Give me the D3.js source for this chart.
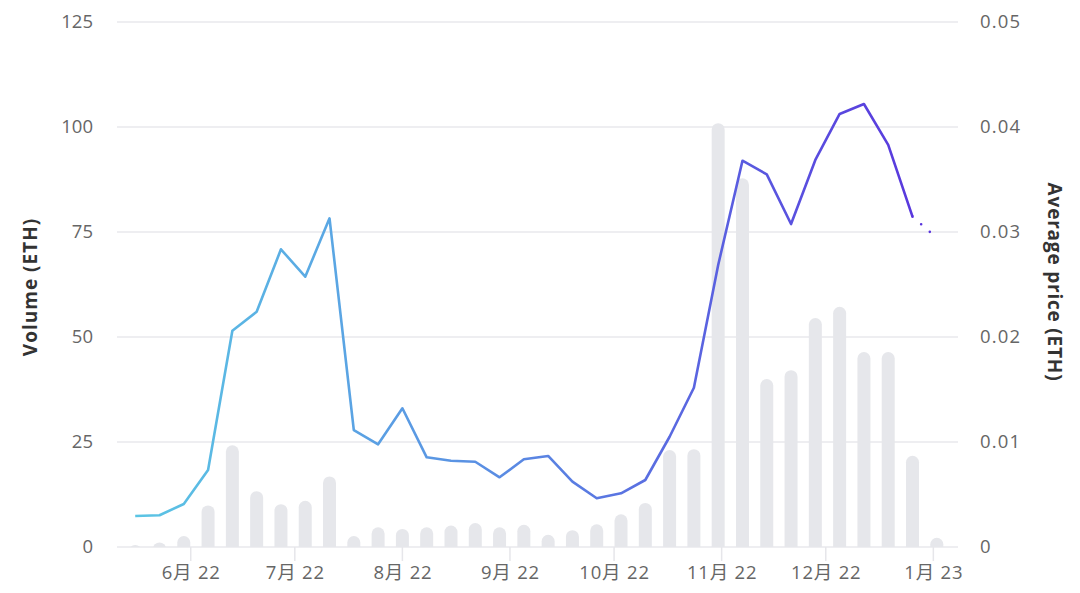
<!DOCTYPE html>
<html>
<head>
<meta charset="utf-8">
<script src="https://cdn.jsdelivr.net/npm/d3@7"></script>
<style>
  html, body { margin: 0; padding: 0; background: #fff; }
  svg { display: block; }
</style>
</head>
<body>
<svg id="chart" width="1080" height="593"></svg>
<script>
// ---- data ----
const weeks = ["2022-05-16","2022-05-23","2022-05-30","2022-06-06","2022-06-13","2022-06-20","2022-06-27",
  "2022-07-04","2022-07-11","2022-07-18","2022-07-25","2022-08-01","2022-08-08","2022-08-15","2022-08-22",
  "2022-08-29","2022-09-05","2022-09-12","2022-09-19","2022-09-26","2022-10-03","2022-10-10","2022-10-17",
  "2022-10-24","2022-10-31","2022-11-07","2022-11-14","2022-11-21","2022-11-28","2022-12-05","2022-12-12",
  "2022-12-19","2022-12-26","2023-01-02"];
const volume = [0.5, 1.1, 2.6, 9.9, 24.2, 13.3, 10.2, 11.0, 16.8, 2.6, 4.7, 4.3, 4.7, 5.1, 5.7, 4.7, 5.3,
  2.9, 4.0, 5.4, 7.8, 10.5, 23.1, 23.3, 100.9, 87.8, 40.0, 42.1, 54.5, 57.2, 46.4, 46.4, 21.7, 2.2];
const price = [0.00295, 0.00302, 0.0041, 0.00733, 0.0206, 0.0224, 0.02835, 0.02574, 0.0313, 0.01114,
  0.00978, 0.01321, 0.00854, 0.00822, 0.00812, 0.00664, 0.00835, 0.00867, 0.00622, 0.00464, 0.00511,
  0.00638, 0.0105, 0.01517, 0.02686, 0.03679, 0.03549, 0.03076, 0.03686, 0.04124, 0.04219, 0.03829,
  0.03146, 0.02943];
const monthTicks = ["2022-06-01","2022-07-01","2022-08-01","2022-09-01","2022-10-01","2022-11-01","2022-12-01","2023-01-01"];
const monthLabels = ["6月 22","7月 22","8月 22","9月 22","10月 22","11月 22","12月 22","1月 23"];
const volTicks = [0, 25, 50, 75, 100, 125];
const priceTicks = [0, 0.01, 0.02, 0.03, 0.04, 0.05];
const volTitle = "Volume (ETH)";
const priceTitle = "Average price (ETH)";

// ---- layout ----
const plotL = 117, plotR = 958, plotT = 22, plotB = 547;
const parse = d3.timeParse("%Y-%m-%d");
const dates = weeks.map(parse);

const svg = d3.select("#chart");
const x = d3.scaleTime().domain([parse("2022-05-16"), parse("2023-01-02")]).range([135.2, 936.8]);
const yV = d3.scaleLinear().domain([0, 125]).range([plotB, plotT]);
const yP = d3.scaleLinear().domain([0, 0.05]).range([plotB, plotT]);

const font = "'Open Sans', 'Noto Sans', 'Noto Sans CJK SC', sans-serif";

// gridlines
svg.append("g").selectAll("line").data(volTicks).join("line")
  .attr("x1", plotL).attr("x2", plotR)
  .attr("y1", d => yV(d)).attr("y2", d => yV(d))
  .attr("stroke", "#e8e8ec").attr("stroke-width", 1.5);

// month ticks
svg.append("g").selectAll("line").data(monthTicks).join("line")
  .attr("x1", d => x(parse(d))).attr("x2", d => x(parse(d)))
  .attr("y1", plotB).attr("y2", plotB + 14)
  .attr("stroke", "#e6e6ea").attr("stroke-width", 1.5);

// bars
svg.append("defs").append("clipPath").attr("id", "clipBars")
  .append("rect").attr("x", 0).attr("y", 0).attr("width", 1080).attr("height", plotB);
const bw = 13;
svg.append("g").attr("clip-path", "url(#clipBars)").selectAll("rect").data(volume).join("rect")
  .attr("x", (d, i) => x(dates[i]) - bw / 2)
  .attr("y", d => yV(d))
  .attr("width", bw)
  .attr("height", d => plotB - yV(d) + bw)
  .attr("rx", bw / 2).attr("ry", bw / 2)
  .attr("fill", "#e6e7eb");

// line gradient
const grad = svg.select("defs").append("linearGradient").attr("id", "lineGrad")
  .attr("gradientUnits", "userSpaceOnUse")
  .attr("x1", x(dates[0])).attr("x2", x(dates[dates.length - 1])).attr("y1", 0).attr("y2", 0);
grad.append("stop").attr("offset", "0%").attr("stop-color", "#5bc5e4");
grad.append("stop").attr("offset", "45%").attr("stop-color", "#5a8de3");
grad.append("stop").attr("offset", "100%").attr("stop-color", "#5934dd");

const pts = price.map((p, i) => [x(dates[i]), yP(p)]);
const line = d3.line();
svg.append("path").attr("d", line(pts.slice(0, pts.length - 1)))
  .attr("fill", "none").attr("stroke", "url(#lineGrad)").attr("stroke-width", 2.6)
  .attr("stroke-linejoin", "round");
svg.append("path").attr("d", line(pts.slice(pts.length - 2)))
  .attr("fill", "none").attr("stroke", "#5934dd").attr("stroke-width", 2.6)
  .attr("stroke-dasharray", "0 11.5").attr("stroke-linecap", "round").attr("stroke-dashoffset", -11.5);

// left tick labels
svg.append("g").selectAll("text").data(volTicks).join("text")
  .attr("x", 93).attr("y", d => yV(d)).attr("dy", "0.35em")
  .attr("text-anchor", "end").attr("font-family", font).attr("font-size", 18.5)
  .attr("fill", "#666").text(d => d);

// right tick labels
svg.append("g").selectAll("text").data(priceTicks).join("text")
  .attr("x", 980).attr("y", d => yP(d)).attr("dy", "0.35em")
  .attr("text-anchor", "start").attr("font-family", font).attr("font-size", 18.5)
  .attr("letter-spacing", 1.2)
  .attr("fill", "#666").text(d => d === 0 ? "0" : d3.format(".2f")(d));

// bottom labels
svg.append("g").selectAll("text").data(monthTicks).join("text")
  .attr("x", d => x(parse(d)) + 0.5).attr("y", 579)
  .attr("text-anchor", "middle").attr("font-family", font).attr("font-size", 18.5)
  .attr("letter-spacing", 0.8)
  .attr("fill", "#666").text((d, i) => monthLabels[i]);

// axis titles
svg.append("text").attr("transform", "translate(37,287) rotate(-90)")
  .attr("text-anchor", "middle").attr("font-family", font).attr("font-size", 19)
  .attr("letter-spacing", 1.0)
  .attr("font-weight", "bold").attr("fill", "#333").text(volTitle);
svg.append("text").attr("transform", "translate(1048,282) rotate(90)")
  .attr("text-anchor", "middle").attr("font-family", font).attr("font-size", 19)
  .attr("letter-spacing", 0.8)
  .attr("font-weight", "bold").attr("fill", "#333").text(priceTitle);
</script>
</body>
</html>
